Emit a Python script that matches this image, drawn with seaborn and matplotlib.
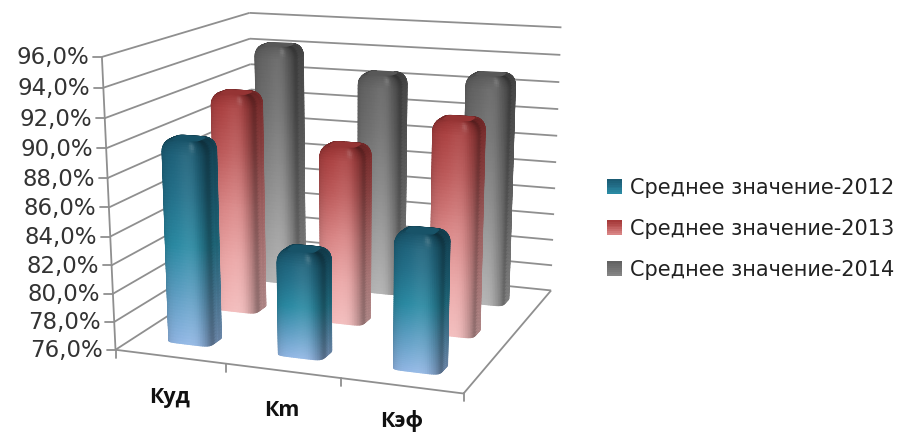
import numpy as np
import pandas as pd
import seaborn as sns
import matplotlib
matplotlib.use("Agg")
import matplotlib.pyplot as plt
from matplotlib.collections import PolyCollection
from matplotlib.legend_handler import HandlerBase
from matplotlib.patches import Rectangle

categories = ["Куд", "Кm", "Кэф"]
series_names = ["Среднее значение-2012", "Среднее значение-2013", "Среднее значение-2014"]
values_2012 = [90.2, 83.3, 85.3]
values_2013 = [92.0, 88.8, 91.2]
values_2014 = [94.3, 92.6, 93.0]
value_ticks = list(range(76, 98, 2))

blue_stops = ["#1b5c74", "#23708a", "#2a8aa3", "#5f9fc4", "#93b8e6"]
red_stops = ["#a63a3a", "#bd5a5a", "#d98585", "#eba6a6", "#f3bcbc"]
gray_stops = ["#626262", "#707070", "#858585", "#9c9c9c", "#b2b2b2"]
axis_color = "#8f8f8f"

sns.set_theme(style="white")
plt.rcParams["font.family"] = ["DejaVu Sans"]

W, H = 897, 432
fig = plt.figure(figsize=(W / 100, H / 100), dpi=100)
ax = fig.add_axes([0, 0, 1, 1])
ax.set_xlim(0, W)
ax.set_ylim(H, 0)
ax.axis("off")

table = pd.DataFrame(
    {"category": categories * 3,
     "series": np.repeat(series_names, 3),
     "value": values_2012 + values_2013 + values_2014}
)


# Perspective camera solved from the corners of the chart box.
def solve_camera():
    anchors = [
        (0, 0, 0, 115, 352), (0, 0, 1, 103, 56), (1, 0, 0, 463, 392),
        (1, 1, 0, 551, 292), (1, 1, 1, 562, 27), (0, 1, 0, 255, 258),
        (0, 1, 1, 248, 14),
    ]
    rows = []
    for x, y, z, u, v in anchors:
        rows.append([x, y, z, 1, 0, 0, 0, 0, -u * x, -u * y, -u * z, -u])
        rows.append([0, 0, 0, 0, x, y, z, 1, -v * x, -v * y, -v * z, -v])
    return np.linalg.svd(np.array(rows, float))[2][-1].reshape(3, 4)


CAM = solve_camera()


def project(x, y, z):
    pts = np.stack([np.asarray(x, float), np.asarray(y, float), np.asarray(z, float),
                    np.ones_like(np.asarray(x, float))], axis=-1)
    q = pts @ CAM.T
    return q[..., :2] / q[..., 2:3]


def zfrac(v):
    return (np.asarray(v, float) - value_ticks[0]) / (value_ticks[-1] - value_ticks[0])


def line3d(a, b, **kw):
    p = project(*np.array([a, b]).T)
    ax.plot(p[:, 0], p[:, 1], color=axis_color, lw=1.3, solid_capstyle="butt", **kw)


# Walls, floor and ticks
for v in value_ticks:
    z = zfrac(v)
    line3d((0, 0, z), (0, 1, z), zorder=1)
    line3d((0, 1, z), (1, 1, z), zorder=1)
    tx, ty = project(0, 0, z)
    ax.plot([tx - 9, tx], [ty, ty], color=axis_color, lw=1.3, zorder=1)
    ax.text(tx - 13, ty + 1, f"{v},0%", ha="right", va="center", fontsize=16.5, color="#333333")

line3d((0, 0, 0), (0, 0, 1), zorder=1)
line3d((0, 0, 0), (1, 0, 0), zorder=1)
line3d((1, 0, 0), (1, 1, 0), zorder=1)
for i in range(len(categories) + 1):
    tx, ty = project(i / 3, 0, 0)
    ax.plot([tx, tx], [ty, ty + 8], color=axis_color, lw=1.3, zorder=1)

label_spots = [(170, 397), (282, 411), (402, 421)]
for name, (lx, ly) in zip(categories, label_spots):
    ax.text(lx, ly, name, ha="center", va="center", fontsize=15.5, fontweight="bold",
            family="Open Sans", color="#111111")


def lerp_palette(stops, t, n=256):
    pal = np.array(sns.blend_palette(stops, n_colors=n))
    return pal[np.clip(((1 - t) * (n - 1)).astype(int), 0, n - 1)]


def perimeter(power=6.0, count=96):
    """Unit rounded square, resampled evenly along its outline."""
    theta = np.linspace(0, 2 * np.pi, 1441)
    ct, st = np.cos(theta), np.sin(theta)
    x = np.sign(ct) * np.abs(ct) ** (2 / power)
    y = np.sign(st) * np.abs(st) ** (2 / power)
    arc = np.concatenate([[0], np.cumsum(np.hypot(np.diff(x), np.diff(y)))])
    even = np.linspace(0, arc[-1], count + 1)
    return np.interp(even, arc, x), np.interp(even, arc, y)


PX, PY = perimeter()
seg_x, seg_y = np.diff(PX), np.diff(PY)
seg_len = np.hypot(seg_x, seg_y)
# Blend neighbouring segment normals so the side shading rolls round each corner.
NX = np.convolve(np.r_[seg_y[-4:], seg_y / seg_len, seg_y[:4]], np.ones(9) / 9, "valid")
NY = np.convolve(np.r_[-seg_x[-4:], -seg_x / seg_len, -seg_x[:4]], np.ones(9) / 9, "valid")


def rounded_bar(cx, cy, height, stops, zorder, wx=0.066, wy=0.050, rz=0.042):
    """Rounded column built from small shaded facets; only facets facing the camera are kept."""
    phi = np.linspace(0, np.pi / 2, 8)
    top_z = height - rz * (1 - np.sin(phi))
    top_in = 0.42 * (1 - np.cos(phi))
    side_z = np.linspace(0, top_z[0], 60)[:-1]
    ring_z = np.concatenate([side_z, top_z])
    ring_in = np.concatenate([np.zeros_like(side_z), top_in])
    first_top = len(side_z)

    polys, cols = [], []
    for k in range(len(ring_z) - 1):
        s0, s1 = 1 - ring_in[k], 1 - ring_in[k + 1]
        z0, z1 = ring_z[k], ring_z[k + 1]
        rise = max(k - first_top + 1, 0) / len(top_z)
        base = lerp_palette(stops, np.full(len(PX) - 1, 0.5 * (z0 + z1) / height))
        for j in range(len(PX) - 1):
            quad = np.array([
                [cx + wx * s0 * PX[j], cy + wy * s0 * PY[j], z0],
                [cx + wx * s0 * PX[j + 1], cy + wy * s0 * PY[j + 1], z0],
                [cx + wx * s1 * PX[j + 1], cy + wy * s1 * PY[j + 1], z1],
                [cx + wx * s1 * PX[j], cy + wy * s1 * PY[j], z1],
            ])
            p = project(quad[:, 0], quad[:, 1], quad[:, 2])
            # pixel y runs downward, so outward facets wind with a negative shoelace sum
            area = 0.5 * np.sum(p[:, 0] * np.roll(p[:, 1], -1) - np.roll(p[:, 0], -1) * p[:, 1])
            if area >= 0:
                continue
            u = 0.5 * (PX[j] + PX[j + 1])
            mx, my = NX[j], NY[j]
            shade = 1.0
            shade -= 0.30 * max(mx, my, 0) ** 0.8
            shade -= 0.12 * max(-mx, 0) ** 0.8
            shade -= 0.10 * np.abs(u) ** 8 * (my < 0)
            shade -= 0.10 * rise
            colour = base[j] * shade
            glow = 0.07 * np.exp(-((u - 0.25) / 0.45) ** 2) * (1 - rise) * max(-my, 0)
            glow += 0.16 * np.exp(-((u - 0.5) / 0.13) ** 2 - ((rise - 0.45) / 0.25) ** 2) * (my < 0)
            colour = colour + (1 - colour) * glow
            polys.append(p)
            cols.append(np.clip(colour, 0, 1))

    # flat cap closing the column
    s = 1 - ring_in[-1]
    cap = project(cx + wx * s * PX, cy + wy * s * PY, np.full_like(PX, ring_z[-1]))
    polys.append(cap)
    cols.append(np.array(sns.color_palette(stops, 1)[0]) * 0.9)

    ax.add_collection(PolyCollection(polys, facecolors=cols, edgecolors=cols, linewidths=1.0,
                                     zorder=zorder, antialiaseds=True))


# Rows are painted from the back of the floor to the front.
palette_stops = [blue_stops, red_stops, gray_stops]
for row in [2, 1, 0]:
    subset = table[table["series"] == series_names[row]]
    for i, val in enumerate(subset["value"]):
        rounded_bar((i + 0.5) / 3, (row + 0.5) / 3, float(zfrac(val)), palette_stops[row],
                    zorder=5 + (2 - row) * 2 + i * 0.1)


class GradientSwatch(HandlerBase):
    def create_artists(self, legend, orig, xd, yd, width, height, fontsize, trans):
        pal = sns.blend_palette(orig.get_gid().split(","), n_colors=8)
        step = height / 8
        return [Rectangle((-xd, -yd + height - (k + 1) * step), width, step + 0.3,
                          facecolor=c, edgecolor="none", transform=trans)
                for k, c in enumerate(pal)]


handles = []
for name, stops in zip(series_names, palette_stops):
    h = Rectangle((0, 0), 1, 1, label=name)
    h.set_gid(",".join(stops[:3]))
    handles.append(h)

ax.legend(handles=handles, loc="upper left", bbox_to_anchor=(601 / W, 1 - 172 / H),
          bbox_transform=fig.transFigure, frameon=False, fontsize=15, labelspacing=1.0,
          handlelength=0.73, handleheight=0.73, handletextpad=0.38, borderpad=0.3, borderaxespad=0,
          labelcolor="#222222",
          handler_map={Rectangle: GradientSwatch()})

fig.savefig("out.png", dpi=100)
